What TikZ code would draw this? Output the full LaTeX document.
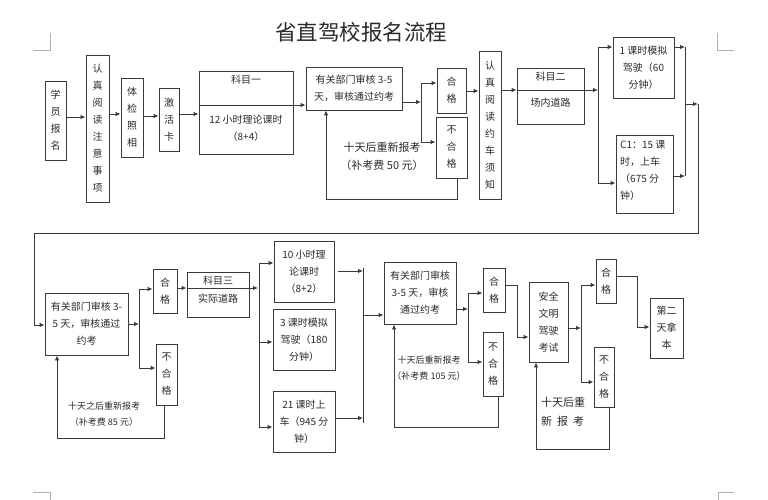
\documentclass[tikz,border=0pt]{standalone}
\usepackage{fontspec}
\setmainfont{Noto Sans CJK SC}
\usetikzlibrary{arrows.meta}
\definecolor{lncol}{HTML}{3A3A3A}
\definecolor{txcol}{HTML}{2A2A2A}
\definecolor{markcol}{HTML}{B0B0B0}
\tikzset{
  box/.style={draw=lncol, line width=0.9pt, inner sep=0pt, align=center, text=txcol, font=\fontsize{10}{17}\selectfont},
  wh/.style 2 args={minimum width=#1pt, minimum height=#2pt},
  lbl/.style={inner sep=0pt, align=center, text=txcol, font=\fontsize{10}{17}\selectfont},
  arr/.style={draw=lncol, line width=0.9pt, -{Latex[length=5pt,width=4.5pt]}},
  wire/.style={draw=lncol, line width=0.9pt},
  cornermark/.style={draw=markcol, line width=0.8pt}
}
\begin{document}
\begin{tikzpicture}[x=1pt,y=-1pt]
\useasboundingbox (0,0) rectangle (768,500);

% corner marks
\draw[cornermark] (33,50) -- (50,50) -- (50,33);
\draw[cornermark] (717,33) -- (717,50) -- (734,50);
\draw[cornermark] (33,492) -- (50,492) -- (50,500);
\draw[cornermark] (718,500) -- (718,492) -- (734,492);

% title
\node[text=txcol, font=\fontsize{21.5}{24}\selectfont, inner sep=0pt] (title) at (361,32) {省直驾校报名流程};

% ---------- row 1 ----------
\node[box, wh={21}{79}] (a1) at (55.5,120.5) {学\\员\\报\\名};
\node[box, wh={23}{147}] (a2) at (97.5,128.5) {认\\真\\阅\\读\\注\\意\\事\\项};
\node[box, wh={22}{79}] (a3) at (132,117.5) {体\\检\\照\\相};
\node[box, wh={20}{63}] (a4) at (169,119.5) {激\\活\\卡};
\node[box, wh={94}{83}] (a5) at (246,112.5) {};
\node[lbl] (a5t) at (246,80) {科目一};
\node[lbl] (a5b) at (246,128) {12 小时理论课时\\（8+4）};
\node[box, wh={96}{43}] (a6) at (354,88.5) {有关部门审核 3-5\\天，审核通过约考};
\node[box, wh={29}{45}] (a7) at (451.5,90.5) {合\\格};
\node[box, wh={31}{61}] (a8) at (451.5,147.5) {不\\合\\格};
\node[box, wh={22}{148}] (a9) at (490,125) {认\\真\\阅\\读\\约\\车\\须\\知};
\node[box, wh={67}{56}] (a10) at (550.5,96) {};
\node[lbl] (a10t) at (550.5,77) {科目二};
\node[lbl] (a10b) at (550.5,103) {场内道路};
\node[box, wh={61}{61}] (a11) at (643.5,67.5) {1 课时模拟\\驾驶（60\\分钟）};
\node[box, wh={57}{78}] (a12) at (644.5,174) {};
\node[lbl, anchor=west, align=left] (a12t) at (620,170) {C1：15 课\\时，上车\\（675 分\\钟）};

\node[lbl, font=\fontsize{11}{18}\selectfont] (f1) at (382,156) {十天后重新报考\\（补考费 50 元）};

% row 1 connectors
\draw[arr] (a1.east |- 0,117) -- (a2.west |- 0,117);
\draw[arr] (a2.east |- 0,114) -- (a3.west |- 0,114);
\draw[arr] (a3.east |- 0,116) -- (a4.west |- 0,116);
\draw[arr] (a4.east |- 0,114) -- (a5.west |- 0,114);
\draw[arr] (a5.west |- 0,105) -- (a6.west |- 0,105);
\coordinate (j1) at (421,102);
\draw[arr] (a6.east |- 0,102) -- (j1);
\draw[wire] (421,83) -- (421,142);
\draw[arr] (421,83) -- (a7.west |- 0,83);
\draw[arr] (421,142) -- (a8.west |- 0,142);
\draw[arr] (a8.south -| 457,0) -- (457,199) -- (326,199) -- (a6.south -| 326,0);
\draw[arr] (a7.east |- 0,91) -- (a9.west |- 0,91);
\draw[arr] (a9.east |- 0,90) -- (a10.west |- 0,90);
\coordinate (j2) at (598,90);
\draw[arr] (a10.west |- 0,90) -- (j2);
\draw[wire] (598,47) -- (598,183);
\draw[arr] (598,47) -- (a11.west |- 0,47);
\draw[arr] (598,183) -- (a12.west |- 0,183);
\draw[arr] (a11.east |- 0,47) -- (685,47);
\draw[arr] (a12.east |- 0,176) -- (685,176);
\draw[wire] (685,47) -- (685,176);
\coordinate (m1) at (685,104);
\coordinate (m2) at (698,104);
\draw[arr] (m1) -- (m2);

% ---------- row 2 ----------
\node[box, wh={83}{62}] (b1) at (86.5,324) {有关部门审核 3-\\5 天，审核通过\\约考};
\node[box, wh={24}{44}] (b2) at (165,291) {合\\格};
\node[box, wh={21}{61}] (b3) at (166.5,374.5) {不\\合\\格};
\node[box, wh={62}{45}] (b4) at (218,294.5) {};
\node[lbl] (b4t) at (218,281) {科目三};
\node[lbl] (b4b) at (218,299) {实际道路};
\node[box, wh={60}{61}] (b5) at (304,271.5) {10 小时理\\论课时\\（8+2）};
\node[box, wh={62}{61}] (b6) at (304,339.5) {3 课时模拟\\驾驶（180\\分钟）};
\node[box, wh={62}{61}] (b7) at (304,421.5) {21 课时上\\车（945 分\\钟）};
\node[box, wh={72}{62}] (b8) at (420,293) {有关部门审核\\3-5 天，审核\\通过约考};
\node[box, wh={22}{44}] (b9) at (494,290) {合\\格};
\node[box, wh={20}{64}] (b10) at (493,364) {不\\合\\格};
\node[box, wh={39}{80}] (b11) at (548.5,322) {安全\\文明\\驾驶\\考试};
\node[box, wh={20}{44}] (b12) at (606,281) {合\\格};
\node[box, wh={20}{60}] (b13) at (604,377) {不\\合\\格};
\node[box, wh={33}{60}] (b14) at (666.5,328) {第二\\天拿\\本};

\node[lbl, font=\fontsize{9}{16}\selectfont] (f2) at (104,414) {十天之后重新报考\\（补考费 85 元）};
\node[lbl, font=\fontsize{9}{16}\selectfont] (f3) at (429,368) {十天后重新报考\\（补考费 105 元）};
\node[lbl, font=\fontsize{11}{19}\selectfont, align=left] (f4) at (563,412) {十天后重\\新\hspace{5pt}报\hspace{5pt}考};

% long return line into row 2
\draw[arr] (m2) -- (698,233) -- (34,233) -- (34,325) -- (b1.west |- 0,325);

% row 2 connectors
\draw[arr] (b1.east |- 0,324) -- (139,324);
\draw[wire] (139,289) -- (139,368);
\draw[arr] (139,289) -- (b2.west |- 0,289);
\draw[arr] (139,368) -- (b3.west |- 0,368);
\draw[arr] (b3.south -| 164,0) -- (164,438) -- (57,438) -- (b1.south -| 57,0);
\draw[arr] (b2.east |- 0,288) -- (b4.west |- 0,288);
\draw[arr] (b4.west |- 0,288) -- (258,288);
\draw[wire] (259,263) -- (259,427);
\draw[arr] (259,263) -- (b5.west |- 0,263);
\draw[arr] (259,342) -- (b6.west |- 0,342);
\draw[arr] (259,427) -- (b7.west |- 0,427);
\draw[arr] (338,271) -- (363,271);
\draw[arr] (b7.east |- 0,418) -- (363,418);
\draw[wire] (363,268) -- (363,423);
\draw[arr] (363,315) -- (b8.west |- 0,315);
\draw[arr] (b8.east |- 0,309) -- (468,309);
\draw[wire] (468,293) -- (468,362);
\draw[arr] (468,293) -- (b9.west |- 0,293);
\draw[arr] (468,362) -- (b10.west |- 0,362);
\draw[arr] (b10.south -| 498,0) -- (498,427) -- (394,427) -- (b8.south -| 394,0);
\draw[arr] (b9.east |- 0,285) -- (517,285) -- (517,337) -- (b11.west |- 0,337);
\draw[arr] (b11.east |- 0,328) -- (581,328);
\draw[wire] (581,285) -- (581,382);
\draw[arr] (581,285) -- (b12.west |- 0,285);
\draw[arr] (581,382) -- (b13.west |- 0,382);
\draw[arr] (b13.south -| 609,0) -- (609,449) -- (536,449) -- (b11.south -| 536,0);
\draw[arr] (b12.east |- 0,276) -- (637,276) -- (637,327) -- (b14.west |- 0,327);
\end{tikzpicture}
\end{document}
